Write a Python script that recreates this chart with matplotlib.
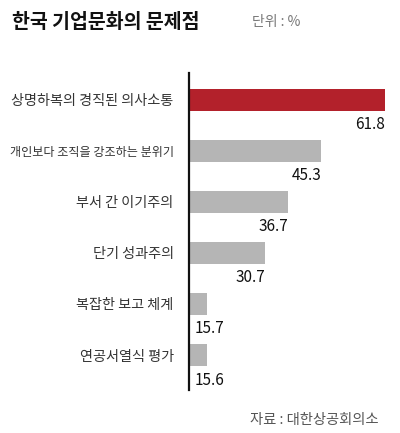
import matplotlib
matplotlib.use("Agg")
import matplotlib.pyplot as plt

plt.rcParams['font.family'] = ['Noto Sans CJK KR', 'DejaVu Sans']

# data
categories = [
    "상명하복의 경직된 의사소통",
    "개인보다 조직을 강조하는 분위기",
    "부서 간 이기주의",
    "단기 성과주의",
    "복잡한 보고 체계",
    "연공서열식 평가",
]
values = [61.8, 45.3, 36.7, 30.7, 15.7, 15.6]
value_labels = ["61.8", "45.3", "36.7", "30.7", "15.7", "15.6"]

RED = "#b3212b"
GRAY = "#b5b5b5"


def main():
    fig = plt.figure(figsize=(4.0, 4.33), dpi=100)
    fig.patch.set_facecolor("white")

    # axes box placed so the vertical line sits where the reference has it
    ax = fig.add_axes([0.4725, 0.0993, 0.49, 0.7321])

    ypos = list(range(len(values)))
    colors = [RED] + [GRAY] * (len(values) - 1)
    ax.barh(ypos, values, height=0.43, color=colors, zorder=1)

    # the original chart's scale does not start at zero
    ax.set_xlim(11, 61.8)
    ax.set_ylim(5.685, -0.52)

    ax.set_yticks(ypos)
    ax.set_yticklabels(categories, fontsize=10.2, color="#333333")
    ax.tick_params(axis="y", length=0, pad=11)
    # the long second label is squeezed in the original
    ax.get_yticklabels()[1].set_fontsize(8.7)
    ax.set_xticks([])

    for side in ["top", "right", "bottom"]:
        ax.spines[side].set_visible(False)
    ax.spines["left"].set_linewidth(1.6)
    ax.spines["left"].set_color("#111111")
    ax.spines["left"].set_zorder(3)

    # value labels under each bar
    for y, v, lab in zip(ypos, values, value_labels):
        if v < 20:
            ax.annotate(lab, xy=(11, y), xytext=(4, -18), textcoords="offset points",
                        ha="left", va="center", fontsize=11, color="#111111")
        else:
            ax.annotate(lab, xy=(v, y), xytext=(0, -18), textcoords="offset points",
                        ha="right", va="center", fontsize=11, color="#111111")

    fig.text(0.03, 0.949, "한국 기업문화의 문제점", fontsize=14, fontweight="bold",
             color="#111111", ha="left", va="center")
    fig.text(0.63, 0.949, "단위 : %", fontsize=10, color="#777777",
             ha="left", va="center")
    fig.text(0.945, 0.03, "자료 : 대한상공회의소", fontsize=10.3, color="#555555",
             ha="right", va="center")

    fig.savefig("out.png", dpi=100)


if __name__ == "__main__":
    main()
